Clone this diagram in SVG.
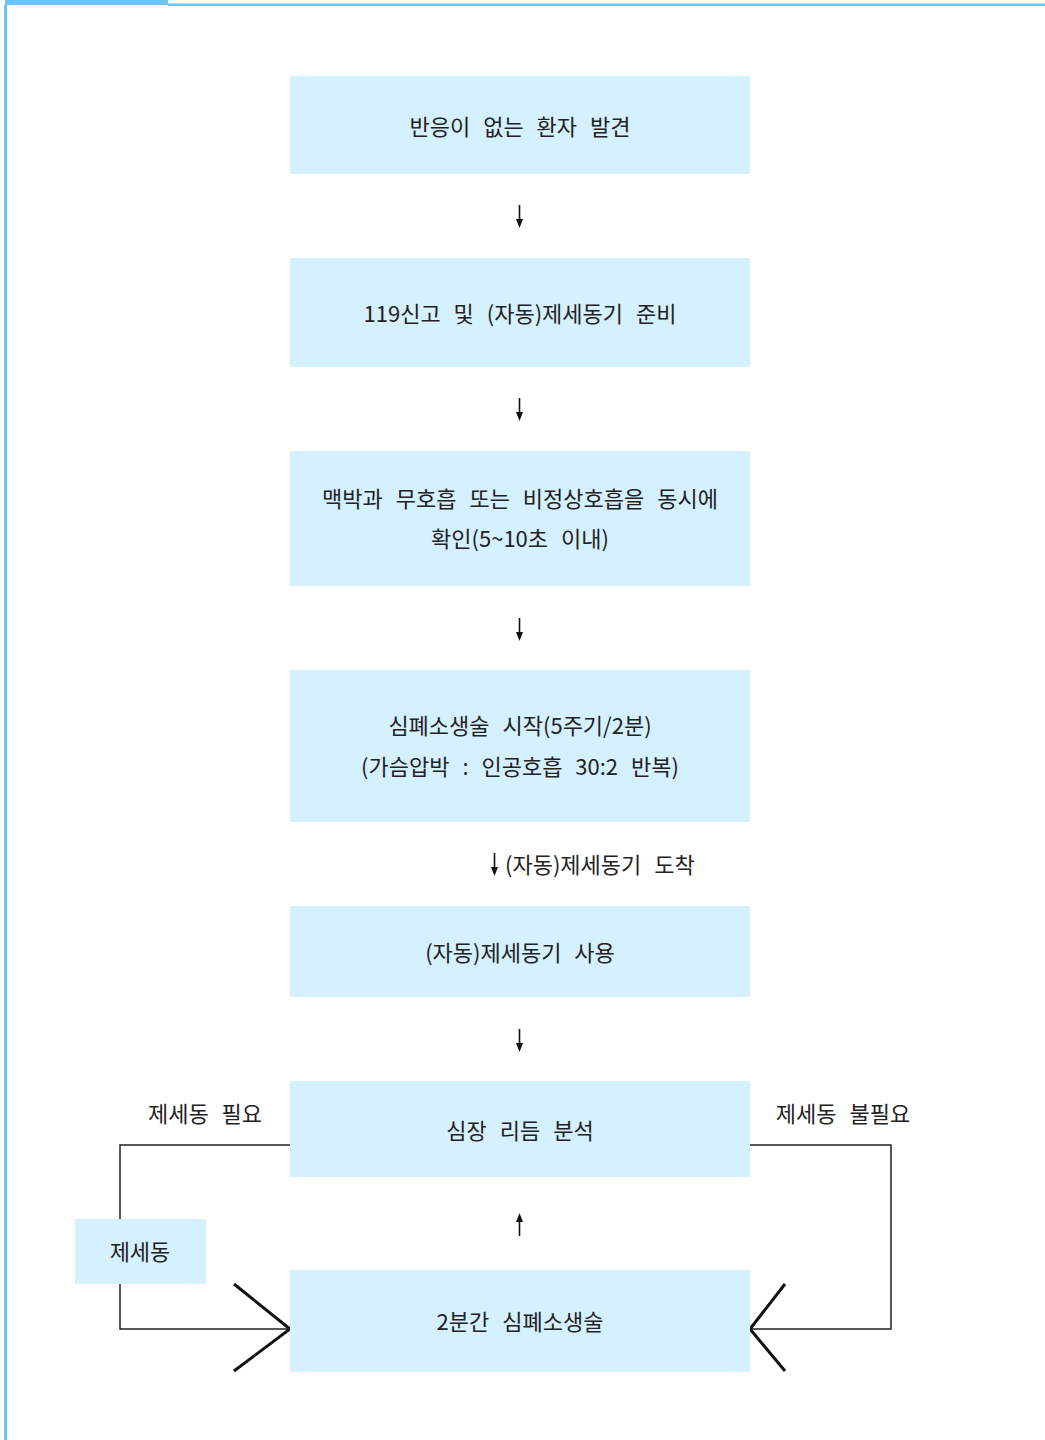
<svg xmlns="http://www.w3.org/2000/svg" width="1045" height="1440" viewBox="0 0 1045 1440">
<style>
.box{fill:#d5f0fe}
.t{font-family:"Noto Sans CJK KR","Noto Sans",sans-serif;font-size:22px;fill:#222;text-anchor:middle;dominant-baseline:central;word-spacing:8px}
.tl{font-family:"Noto Sans CJK KR","Noto Sans",sans-serif;font-size:22px;fill:#222;dominant-baseline:central;word-spacing:8px}
.ln{fill:none;stroke:#222;stroke-width:1.5}
.ch{fill:none;stroke:#111;stroke-width:3}
.ar{stroke:#111;stroke-width:1.6}
</style>
<rect x="0" y="0" width="1045" height="1440" fill="#fff"/>
<g id="frame">
<rect x="5" y="0" width="163" height="5" fill="#6ec4ff"/>
<rect x="168" y="3.5" width="877" height="2.5" fill="#6ec4ff"/>
<rect x="4" y="5" width="3" height="1435" fill="#6ec4ff"/>
</g>
<g id="connectors">
<line class="ar" x1="519.5" y1="205" x2="519.5" y2="220"/><path d="M516,219 L523,219 L519.5,228 Z" fill="#111"/>
<line class="ar" x1="519.5" y1="398" x2="519.5" y2="413"/><path d="M516,412 L523,412 L519.5,421 Z" fill="#111"/>
<line class="ar" x1="519.5" y1="618" x2="519.5" y2="633"/><path d="M516,632 L523,632 L519.5,641 Z" fill="#111"/>
<line class="ar" x1="494.5" y1="853" x2="494.5" y2="868"/><path d="M491,867 L498,867 L494.5,876 Z" fill="#111"/>
<line class="ar" x1="519.5" y1="1029" x2="519.5" y2="1044"/><path d="M516,1043 L523,1043 L519.5,1052 Z" fill="#111"/>
<line class="ar" x1="519.5" y1="1236" x2="519.5" y2="1221"/><path d="M516,1222 L523,1222 L519.5,1213 Z" fill="#111"/>
<polyline class="ln" points="290,1145 120,1145 120,1329 290,1329"/>
<polyline class="ch" points="234,1284 290,1329 234,1371"/>
<polyline class="ln" points="750,1145 891,1145 891,1329 750,1329"/>
<polyline class="ch" points="785,1284 750,1329 785,1371"/>
<text class="tl" x="505" y="863">(자동)제세동기 도착</text>
<text class="t" x="205" y="1112">제세동 필요</text>
<text class="t" x="843" y="1112">제세동 불필요</text>
</g>
<g id="n1"><rect class="box" x="290" y="76" width="460" height="98"/><text class="t" x="520" y="125">반응이 없는 환자 발견</text></g>
<g id="n2"><rect class="box" x="290" y="258" width="460" height="109"/><text class="t" x="520" y="312">119신고 및 (자동)제세동기 준비</text></g>
<g id="n3"><rect class="box" x="290" y="451" width="460" height="135"/><text class="t" x="520" y="497">맥박과 무호흡 또는 비정상호흡을 동시에</text><text class="t" x="520" y="537">확인(5~10초 이내)</text></g>
<g id="n4"><rect class="box" x="290" y="670" width="460" height="152"/><text class="t" x="520" y="724">심폐소생술 시작(5주기/2분)</text><text class="t" x="520" y="765">(가슴압박 : 인공호흡 30:2 반복)</text></g>
<g id="n5"><rect class="box" x="290" y="906" width="460" height="91"/><text class="t" x="520" y="951">(자동)제세동기 사용</text></g>
<g id="n6"><rect class="box" x="290" y="1081" width="460" height="96"/><text class="t" x="520" y="1129">심장 리듬 분석</text></g>
<g id="n7"><rect class="box" x="290" y="1270" width="460" height="102"/><text class="t" x="520" y="1320">2분간 심폐소생술</text></g>
<g id="n8"><rect class="box" x="75" y="1219" width="131" height="65"/><text class="t" x="140" y="1250">제세동</text></g>
</svg>
